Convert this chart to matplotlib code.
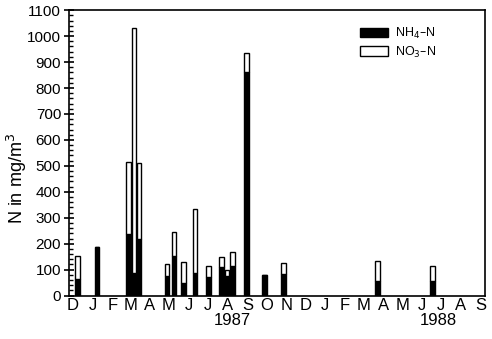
import datetime as dt

import matplotlib
matplotlib.use("Agg")
import matplotlib.pyplot as plt
import matplotlib.dates as mdates
import matplotlib.transforms as mtransforms
from matplotlib.patches import Patch
from matplotlib.ticker import MultipleLocator, FuncFormatter

# sampling dates (Dec 1986 - Sep 1988)
dates = ["1986-12-09", "1987-01-08", "1987-02-27", "1987-03-07", "1987-03-15",
         "1987-04-28", "1987-05-09", "1987-05-24", "1987-06-11", "1987-07-02",
         "1987-07-22", "1987-07-31", "1987-08-09", "1987-08-31", "1987-09-28",
         "1987-10-28", "1988-03-23", "1988-06-18"]
# nitrogen concentrations, mg/m^3
nh4 = [65, 188, 238, 88, 219, 77, 154, 50, 88, 73, 112, 77, 115, 862, 81, 85, 58, 58]
no3 = [89, 0, 277, 942, 292, 46, 92, 81, 246, 42, 38, 23, 54, 73, 0, 42, 77, 57]

plt.rcParams["font.family"] = ["Liberation Sans", "DejaVu Sans"]

x = mdates.date2num([dt.datetime.strptime(d, "%Y-%m-%d") for d in dates])
width = 7.5  # days

fig = plt.figure(figsize=(4.92, 3.39), dpi=100)
ax = fig.add_axes([0.140, 0.128, 0.846, 0.842])

ax.bar(x, nh4, width=width, color="black", edgecolor="black", linewidth=1.0)
ax.bar(x, no3, width=width, bottom=nh4, color="white", edgecolor="black",
       linewidth=1.0)

ax.set_xlim(mdates.date2num(dt.datetime(1986, 11, 25)),
            mdates.date2num(dt.datetime(1988, 9, 8)))
ax.set_ylim(0, 1100)

ax.xaxis.set_major_locator(mdates.MonthLocator())
ax.xaxis.set_major_formatter(FuncFormatter(lambda v, pos: mdates.num2date(v).strftime("%b")[0]))
ax.tick_params(axis="x", length=0, labelsize=12, pad=2)

ax.yaxis.set_major_locator(MultipleLocator(100))
ax.yaxis.set_minor_locator(MultipleLocator(20))
ax.tick_params(axis="y", which="major", direction="inout", length=7, width=1.2,
               labelsize=11, pad=2)
ax.tick_params(axis="y", which="minor", direction="in", length=3, width=1.0)

for s in ax.spines.values():
    s.set_linewidth(1.2)

ax.set_ylabel("N in mg/m$^3$", fontsize=13)
ax.yaxis.set_label_coords(-0.095, 0.41)

# year labels under the month letters
trans = mtransforms.blended_transform_factory(ax.transData, ax.transAxes)
ax.text(mdates.date2num(dt.datetime(1987, 8, 9)), -0.062, "1987", transform=trans,
        ha="center", va="top", fontsize=12)
ax.text(mdates.date2num(dt.datetime(1988, 6, 26)), -0.062, "1988", transform=trans,
        ha="center", va="top", fontsize=12)

handles = [Patch(facecolor="black", edgecolor="black", label="NH$_4$\u2013N"),
           Patch(facecolor="white", edgecolor="black", label="NO$_3$\u2013N")]
ax.legend(handles=handles, loc="upper right", bbox_to_anchor=(0.91, 0.985),
          frameon=False, fontsize=9, handlelength=2.2, handleheight=0.8,
          handletextpad=0.6, labelspacing=0.3)

fig.savefig("out.png", dpi=100)
